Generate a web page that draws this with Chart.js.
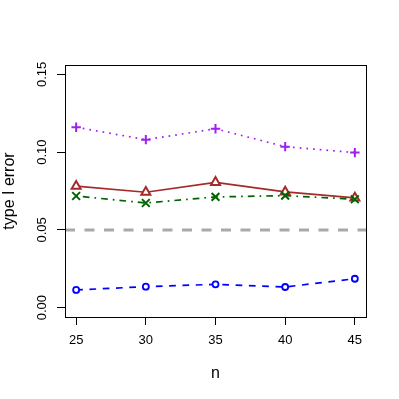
<!DOCTYPE html>
<html>
<head>
<meta charset="utf-8">
<script src="https://cdn.jsdelivr.net/npm/chart.js@4/dist/chart.umd.min.js"></script>
<style>
  html, body { margin: 0; padding: 0; background: #fff; }
  #wrap { width: 399px; height: 399px; }
</style>
</head>
<body>
<div id="wrap"><canvas id="chart" width="399" height="399"></canvas></div>
<script>
// sample sizes on the x axis
const sizes = [25, 30, 35, 40, 45];
// type I error of each method
const plusSeries = [0.116, 0.108, 0.115, 0.1035, 0.0997];
const triangleSeries = [0.0781, 0.0742, 0.0806, 0.0744, 0.0706];
const crossSeries = [0.0718, 0.0673, 0.0712, 0.0720, 0.0697];
const circleSeries = [0.0114, 0.0135, 0.0150, 0.0133, 0.0186];
const nominalLevel = 0.05;

const xTicks = [25, 30, 35, 40, 45];
const yTicks = [0.00, 0.05, 0.10, 0.15];

// R style axis limits (4% extension)
const xMin = 24.2, xMax = 45.8;
const yMin = -0.006, yMax = 0.156;

const FONT = '"Liberation Sans", Arial, Helvetica, sans-serif';
const LW = 1.7;

function pts(vals) {
    return sizes.map((n, i) => ({ x: n, y: vals[i] }));
}

const rBox = {
    id: 'rBox',
    afterDraw(chart) {
        const ctx = chart.ctx;
        const a = chart.chartArea;
        const ys = chart.scales.y;
        ctx.save();
        ctx.strokeStyle = '#000';
        ctx.lineWidth = 1;
        ctx.strokeRect(Math.round(a.left) + 0.5, Math.round(a.top) + 0.5,
            Math.round(a.right - a.left), Math.round(a.bottom - a.top));

        // rotated y tick labels like R's default
        ctx.fillStyle = '#000';
        ctx.font = '13px ' + FONT;
        ctx.textAlign = 'center';
        ctx.textBaseline = 'middle';
        ys.ticks.forEach(t => {
            const y = ys.getPixelForValue(t.value);
            ctx.save();
            ctx.translate(42, y);
            ctx.rotate(-Math.PI / 2);
            ctx.fillText(t.value.toFixed(2), 0, 0);
            ctx.restore();
        });

        // axis titles
        ctx.font = '16px ' + FONT;
        ctx.save();
        ctx.translate(10, (a.top + a.bottom) / 2);
        ctx.rotate(-Math.PI / 2);
        ctx.fillText('type I error', 0, 0);
        ctx.restore();
        ctx.fillText('n', (a.left + a.right) / 2, 374);
        ctx.restore();
    }
};

new Chart(document.getElementById('chart'), {
    type: 'scatter',
    data: {
        datasets: [
            {
                label: 'nominal',
                data: [{ x: xMin, y: nominalLevel }, { x: xMax, y: nominalLevel }],
                showLine: true,
                borderColor: '#A9A9A9',
                borderWidth: 3,
                borderDash: [10, 9.5],
                pointRadius: 0,
                order: 6
            },
            {
                label: 'plus',
                data: pts(plusSeries),
                showLine: true,
                borderColor: '#A020F0',
                backgroundColor: '#A020F0',
                borderWidth: LW,
                borderDash: [1.7, 5],
                pointStyle: 'cross',
                pointRadius: 4.7,
                pointBorderWidth: 2,
                order: 1
            },
            {
                label: 'triangle',
                data: pts(triangleSeries),
                showLine: true,
                borderColor: '#A52A2A',
                backgroundColor: '#fff',
                borderWidth: LW,
                pointStyle: 'triangle',
                pointRadius: 5.2,
                pointBorderWidth: 2,
                order: 3
            },
            {
                label: 'cross',
                data: pts(crossSeries),
                showLine: true,
                borderColor: '#006400',
                backgroundColor: '#006400',
                borderWidth: LW,
                borderDash: [1.7, 5, 6.7, 5],
                pointStyle: 'crossRot',
                pointRadius: 5.5,
                pointBorderWidth: 2,
                order: 2
            },
            {
                label: 'circle',
                data: pts(circleSeries),
                showLine: true,
                borderColor: '#0000FF',
                backgroundColor: '#fff',
                borderWidth: LW,
                borderDash: [6.7, 6.6],
                pointStyle: 'circle',
                pointRadius: 3,
                pointBorderWidth: 1.8,
                order: 4
            }
        ]
    },
    options: {
        responsive: false,
        animation: false,
        layout: { padding: { left: 0, top: 65, right: 33, bottom: 0 } },
        plugins: {
            legend: { display: false },
            tooltip: { enabled: false }
        },
        scales: {
            x: {
                type: 'linear',
                min: xMin,
                max: xMax,
                afterBuildTicks: s => { s.ticks = xTicks.map(v => ({ value: v })); },
                afterFit: s => { s.height = 82; },
                border: { display: false },
                grid: { drawOnChartArea: false, drawTicks: true, tickLength: 8, color: '#000', lineWidth: 1 },
                ticks: {
                    color: '#000',
                    font: { family: FONT, size: 13 },
                    padding: 8,
                    maxRotation: 0,
                    callback: v => String(v)
                }
            },
            y: {
                type: 'linear',
                min: yMin,
                max: yMax,
                afterBuildTicks: s => { s.ticks = yTicks.map(v => ({ value: v })); },
                afterFit: s => { s.width = 65; },
                border: { display: false },
                grid: { drawOnChartArea: false, drawTicks: true, tickLength: 8, color: '#000', lineWidth: 1 },
                ticks: { display: false }
            }
        }
    },
    plugins: [rBox]
});
</script>
</body>
</html>
